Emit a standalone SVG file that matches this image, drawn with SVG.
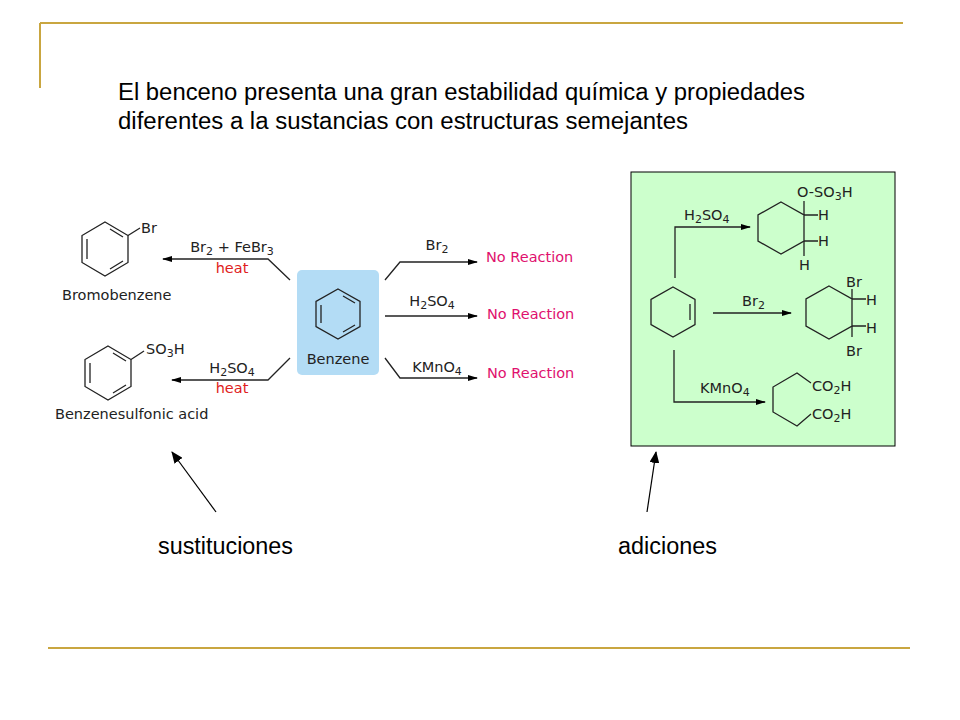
<svg xmlns="http://www.w3.org/2000/svg" width="960" height="720" viewBox="0 0 960 720">
<defs>
<marker id="ah" markerWidth="10" markerHeight="8" refX="9" refY="4" orient="auto" markerUnits="userSpaceOnUse"><path d="M0,1 L10,4 L0,7 Z" fill="#000"/></marker>
<marker id="bk" markerWidth="12" markerHeight="10" refX="11" refY="5" orient="auto" markerUnits="userSpaceOnUse"><path d="M0,0 L12,5 L0,10 Z" fill="#000"/></marker>
</defs>
<style>
.s{font-family:"DejaVu Sans",sans-serif;font-size:14.5px;fill:#222}
.r{font-family:"DejaVu Sans",sans-serif;font-size:14.5px;fill:#e0106e}
.h{font-family:"DejaVu Sans",sans-serif;font-size:14.5px;fill:#e02020}
.b{font-family:"Liberation Sans",Arial,sans-serif;font-size:23px;fill:#000}
.ln{stroke:#222;stroke-width:1.3;fill:none}
.gold{stroke:#c9a640;stroke-width:2;fill:none}
</style>
<rect width="960" height="720" fill="#fff"/>
<path class="gold" d="M40,23 H903 M40,23 V88 M48,648 H910"/>
<rect x="631" y="172" width="264" height="274" fill="#ccffcc" stroke="#000" stroke-width="1"/>
<g id="title"><text class="b" x="118" y="100" textLength="687" lengthAdjust="spacingAndGlyphs">El benceno presenta una gran estabilidad química y propiedades</text><text class="b" x="118" y="129" textLength="570" lengthAdjust="spacingAndGlyphs">diferentes a la sustancias con estructuras semejantes</text></g>
<g id="bromobenzene">
<polygon class="ln" points="105,222 128,235.5 128,262.5 105,276 82,262.5 82,235.5"/>
<path class="ln" d="M110,229 L123,237 M123,261 L110,269 M87,239 V259"/>
<path class="ln" d="M128,235.5 L140,228"/>
<text class="s" x="141" y="233">Br</text>
<text class="s" x="62" y="300">Bromobenzene</text>
</g>
<g id="sulfonic">
<polygon class="ln" points="108,346 131,359.5 131,386.5 108,400 85,386.5 85,359.5"/>
<path class="ln" d="M113,353 L126,361 M126,385 L113,393 M90,363 V383"/>
<path class="ln" d="M131,359.5 L144,351"/>
<text class="s" x="146" y="354">SO<tspan font-size="11" dy="3">3</tspan><tspan dy="-3">H</tspan></text>
<text class="s" x="55" y="419">Benzenesulfonic acid</text>
</g>
<g id="benzene">
<rect x="297" y="270" width="82" height="105" rx="5" fill="#b3dcf5"/>
<polygon class="ln" points="338,289 360,301.5 360,326.5 338,339 316,326.5 316,301.5"/>
<path class="ln" d="M343,296 L355,303 M355,325 L343,332 M321,305 V323"/>
<text class="s" x="338" y="364" text-anchor="middle">Benzene</text>
</g>
<g id="connectors">
<path class="ln" d="M290,280 L268,259 H163" marker-end="url(#ah)"/>
<path class="ln" d="M290,358 L268,380 H172" marker-end="url(#ah)"/>
<path class="ln" d="M385,280 L400,262 H477" marker-end="url(#ah)"/>
<path class="ln" d="M385,316 H477" marker-end="url(#ah)"/>
<path class="ln" d="M385,358 L400,378 H477" marker-end="url(#ah)"/>
<path class="ln" d="M675,278 V227 H750" marker-end="url(#ah)"/>
<path class="ln" d="M713,313 H791" marker-end="url(#ah)"/>
<path class="ln" d="M674,350 V402 H765" marker-end="url(#ah)"/>
<path stroke="#000" stroke-width="1.2" d="M216,512 L172,452" marker-end="url(#bk)"/>
<path stroke="#000" stroke-width="1.2" d="M647,512 L656,452" marker-end="url(#bk)"/>
</g>
<g id="leftlabels">
<text class="s" x="232" y="252" text-anchor="middle">Br<tspan font-size="11" dy="3">2</tspan><tspan dy="-3"> + FeBr</tspan><tspan font-size="11" dy="3">3</tspan></text>
<text class="h" x="232" y="273" text-anchor="middle">heat</text>
<text class="s" x="232" y="373" text-anchor="middle">H<tspan font-size="11" dy="3">2</tspan><tspan dy="-3">SO</tspan><tspan font-size="11" dy="3">4</tspan></text>
<text class="h" x="232" y="393" text-anchor="middle">heat</text>
</g>
<g id="rightlabels">
<text class="s" x="437" y="250" text-anchor="middle">Br<tspan font-size="11" dy="3">2</tspan></text>
<text class="r" x="486" y="262">No Reaction</text>
<text class="s" x="432" y="306" text-anchor="middle">H<tspan font-size="11" dy="3">2</tspan><tspan dy="-3">SO</tspan><tspan font-size="11" dy="3">4</tspan></text>
<text class="r" x="487" y="319">No Reaction</text>
<text class="s" x="437" y="372" text-anchor="middle">KMnO<tspan font-size="11" dy="3">4</tspan></text>
<text class="r" x="487" y="378">No Reaction</text>
</g>
<g id="additions">
<polygon class="ln" points="673,287 695,299.5 695,324.5 673,337 651,324.5 651,299.5"/>
<path class="ln" d="M690,304 V320"/>
<text class="s" x="684" y="220">H<tspan font-size="11" dy="3">2</tspan><tspan dy="-3">SO</tspan><tspan font-size="11" dy="3">4</tspan></text>
<polygon class="ln" points="781,202 804,215 804,241 781,254 758,241 758,215"/>
<path class="ln" d="M804,215 V201 M804,215 H818 M804,241 H818 M804,241 V256"/>
<text class="s" x="797" y="197">O-SO<tspan font-size="11" dy="3">3</tspan><tspan dy="-3">H</tspan></text>
<text class="s" x="818" y="220">H</text>
<text class="s" x="818" y="246">H</text>
<text class="s" x="799" y="270">H</text>
<text class="s" x="742" y="306">Br<tspan font-size="11" dy="3">2</tspan></text>
<polygon class="ln" points="829,286 852,299 852,326 829,339 806,326 806,299"/>
<path class="ln" d="M852,299 V289 M852,299 H866 M852,326 H866 M852,326 V337"/>
<text class="s" x="846" y="287">Br</text>
<text class="s" x="866" y="305">H</text>
<text class="s" x="866" y="333">H</text>
<text class="s" x="846" y="356">Br</text>
<text class="s" x="700" y="393">KMnO<tspan font-size="11" dy="3">4</tspan></text>
<path class="ln" d="M811,383 L797,373 L773,387 V412 L797,426 L811,414"/>
<text class="s" x="812" y="391">CO<tspan font-size="11" dy="3">2</tspan><tspan dy="-3">H</tspan></text>
<text class="s" x="812" y="419">CO<tspan font-size="11" dy="3">2</tspan><tspan dy="-3">H</tspan></text>
</g>
<g id="bottom"><text class="b" x="158" y="554" font-size="21" textLength="135" lengthAdjust="spacingAndGlyphs">sustituciones</text><text class="b" x="618" y="554" font-size="21" textLength="99" lengthAdjust="spacingAndGlyphs">adiciones</text></g>
</svg>
